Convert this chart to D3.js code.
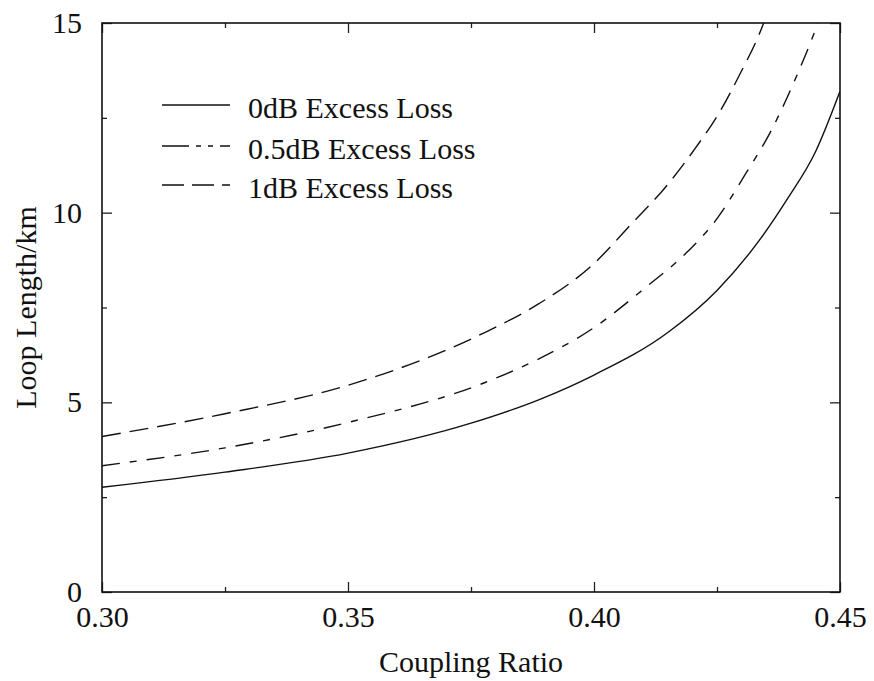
<!DOCTYPE html>
<html>
<head>
<meta charset="utf-8">
<script src="https://cdn.jsdelivr.net/npm/d3@7"></script>
<style>
  body { margin: 0; background: #fff; }
  svg { display: block; }
  text { font-family: "Liberation Serif", "Times New Roman", serif; fill: #111; }
</style>
</head>
<body>
<svg id="chart" width="874" height="681"></svg>
<script>
// ---------- data ----------
const seriesNames = ["0dB Excess Loss", "0.5dB Excess Loss", "1dB Excess Loss"];

const x0dB = [0.300, 0.325, 0.350, 0.375, 0.389, 0.400, 0.415, 0.425, 0.434, 0.4395, 0.445, 0.450];
const y0dB = [2.76, 3.16, 3.66, 4.45, 5.08, 5.72, 6.84, 7.95, 9.34, 10.4, 11.6, 13.2];

const x05dB = [0.300, 0.325, 0.350, 0.378, 0.389, 0.400, 0.4105, 0.4186, 0.4247, 0.4307, 0.436, 0.4415, 0.4445, 0.4455];
const y05dB = [3.33, 3.80, 4.47, 5.53, 6.16, 6.97, 8.03, 8.92, 9.79, 11.0, 12.16, 13.7, 14.65, 15.0];

const x1dB = [0.300, 0.325, 0.350, 0.377, 0.3888, 0.3995, 0.4076, 0.4151, 0.4206, 0.4253, 0.430, 0.4334, 0.4345];
const y1dB = [4.10, 4.70, 5.45, 6.79, 7.60, 8.60, 9.70, 10.76, 11.70, 12.60, 13.74, 14.65, 15.0];

const xMajorTicks = [0.30, 0.35, 0.40, 0.45];
const xMinorTicks = [0.325, 0.375, 0.425];
const yMajorTicks = [0, 5, 10, 15];
const yMinorTicks = [2.5, 7.5, 12.5];
const xLabel = "Coupling Ratio";
const yLabel = "Loop Length/km";

// ---------- layout ----------
const svg = d3.select("#chart");
const L = 102, R = 840, T = 23, B = 592;
const x = d3.scaleLinear().domain([0.30, 0.45]).range([L, R]);
const y = d3.scaleLinear().domain([0, 15]).range([B, T]);

const dashes = ["none", "18,10,7,10", "19,9"];
const seriesData = [
  d3.zip(x0dB, y0dB),
  d3.zip(x05dB, y05dB),
  d3.zip(x1dB, y1dB)
];

svg.append("defs").append("clipPath").attr("id", "clip")
  .append("rect").attr("x", L).attr("y", T).attr("width", R - L).attr("height", B - T);

// ---------- axes ----------
const fontSize = 30;
function styleAxis(g) {
  g.select(".domain").remove();
  g.selectAll("line").attr("stroke", "#222").attr("stroke-width", 1.3);
  g.selectAll("text").attr("font-size", fontSize).attr("font-family", "Liberation Serif").attr("fill", "#111");
}

svg.append("g").attr("transform", `translate(0,${B})`)
  .call(d3.axisBottom(x).tickValues(xMajorTicks).tickSize(-10).tickPadding(14).tickFormat(d3.format(".2f")))
  .call(styleAxis);
svg.append("g").attr("transform", `translate(0,${B})`)
  .call(d3.axisBottom(x).tickValues(xMinorTicks).tickSize(-5).tickFormat(""))
  .call(styleAxis);
svg.append("g").attr("transform", `translate(0,${T})`)
  .call(d3.axisTop(x).tickValues(xMajorTicks).tickSize(-10).tickFormat(""))
  .call(styleAxis);
svg.append("g").attr("transform", `translate(0,${T})`)
  .call(d3.axisTop(x).tickValues(xMinorTicks).tickSize(-5).tickFormat(""))
  .call(styleAxis);

svg.append("g").attr("transform", `translate(${L},0)`)
  .call(d3.axisLeft(y).tickValues(yMajorTicks).tickSize(-10).tickPadding(20).tickFormat(d3.format("d")))
  .call(styleAxis);
svg.append("g").attr("transform", `translate(${L},0)`)
  .call(d3.axisLeft(y).tickValues(yMinorTicks).tickSize(-5).tickFormat(""))
  .call(styleAxis);
svg.append("g").attr("transform", `translate(${R},0)`)
  .call(d3.axisRight(y).tickValues(yMajorTicks).tickSize(-10).tickFormat(""))
  .call(styleAxis);
svg.append("g").attr("transform", `translate(${R},0)`)
  .call(d3.axisRight(y).tickValues(yMinorTicks).tickSize(-5).tickFormat(""))
  .call(styleAxis);

// frame
svg.append("rect").attr("x", L).attr("y", T).attr("width", R - L).attr("height", B - T)
  .attr("fill", "none").attr("stroke", "#111").attr("stroke-width", 1.6);

// axis titles
svg.append("text").attr("x", (L + R) / 2).attr("y", 672)
  .attr("text-anchor", "middle").attr("font-size", fontSize).text(xLabel);
svg.append("text").attr("transform", `translate(36,${(T + B) / 2}) rotate(-90)`)
  .attr("text-anchor", "middle").attr("font-size", fontSize).text(yLabel);

// ---------- curves ----------
const line = d3.line().x(d => x(d[0])).y(d => y(d[1])).curve(d3.curveMonotoneX);
svg.append("g").attr("clip-path", "url(#clip)")
  .selectAll("path").data(seriesData).join("path")
  .attr("d", line)
  .attr("fill", "none")
  .attr("stroke", "#111")
  .attr("stroke-width", 1.4)
  .attr("stroke-dasharray", (d, i) => dashes[i]);

// ---------- legend ----------
const legend = svg.append("g");
const legY = [105, 146, 185];
const legDashes = ["none", "27,7,5,7,5,7", "22,8"];
seriesNames.forEach((name, i) => {
  legend.append("line").attr("x1", 162).attr("x2", 230).attr("y1", legY[i]).attr("y2", legY[i])
    .attr("stroke", "#111").attr("stroke-width", 1.4).attr("stroke-dasharray", legDashes[i]);
  legend.append("text").attr("x", 248).attr("y", legY[i] + 2).attr("dy", "0.35em")
    .attr("font-size", fontSize).text(name);
});
</script>
</body>
</html>
